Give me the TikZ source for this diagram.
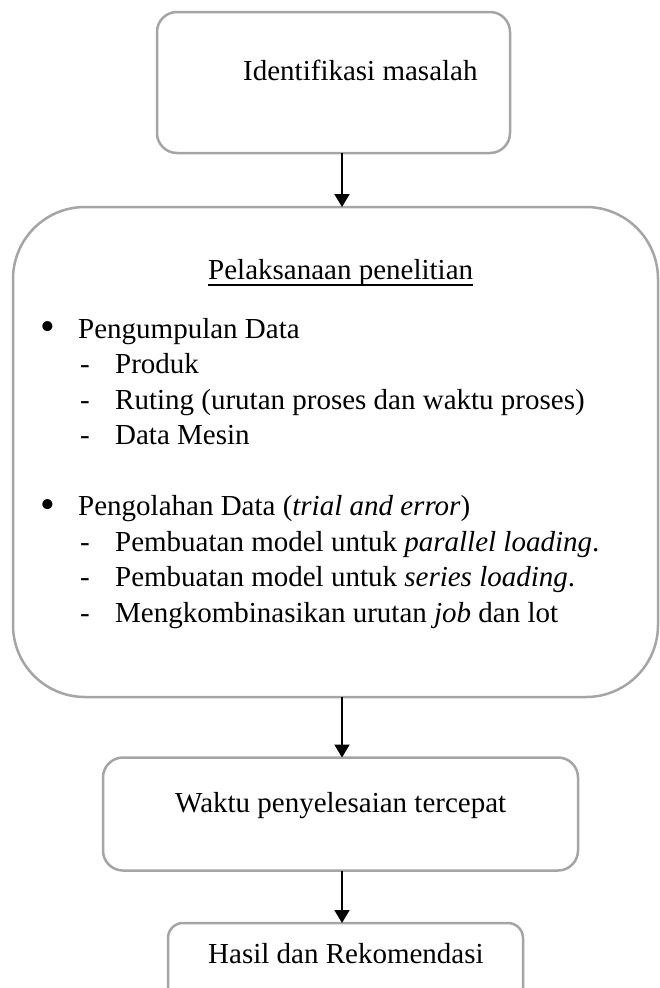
\documentclass[tikz,border=0pt]{standalone}
\usepackage{fontspec}
\setmainfont{Liberation Serif}
\usetikzlibrary{arrows.meta,positioning}
\definecolor{boxgray}{RGB}{165,165,165}
\newcommand\itembullet{\llap{\makebox[38pt][l]{\raisebox{-2.5pt}{\scalebox{1.45}{\textbullet}}}}}
\newcommand\itemdash{\llap{\makebox[35pt][l]{-}}}
\tikzset{process box/.style={rectangle,draw=boxgray,line width=2.5pt,rounded corners=20pt,inner sep=0pt,outer sep=0pt},
         box text/.style={anchor=base west,inner sep=0pt,font=\fontsize{29}{35.5}\selectfont},
         flow/.style={-{Triangle[length=13pt,width=15pt]},line width=2pt,black}
}

\begin{document}
\begin{tikzpicture}[x=1pt,y=-1pt]
\useasboundingbox (0,0) rectangle (660,988);
\coordinate (axis) at (342,0);
% boxes
\node [process box, minimum width=353pt, minimum height=141pt] (ident) at (333.5,82.5) {};
\node [process box, rounded corners=72pt, minimum width=645pt, minimum height=490pt] (research) at (335.5,452) {};
\node [process box, minimum width=475pt, minimum height=113pt] (fastest) at (340.5,814) {};
\node [process box, rounded corners=15pt, minimum width=355pt, minimum height=90pt] (result) at (345.5,968) {};
% texts
\node [box text] (identtext) at (243,80) {Identifikasi masalah};
\node [box text] (title) at (208,279) {Pelaksanaan penelitian};
\draw [line width=1.6pt] ([yshift=-6pt]title.base west) -- ([yshift=-6pt]title.base east);
\node [box text] (collect) at (78,338) {\itembullet Pengumpulan Data};
\node [box text] (product) at (115,373.5) {\itemdash Produk};
\node [box text] (routing) at (115,409) {\itemdash Ruting (urutan proses dan waktu proses)};
\node [box text] (machine) at (115,444.5) {\itemdash Data Mesin};
\node [box text] (process) at (78,515.5) {\itembullet Pengolahan Data (\textit{trial and error})};
\node [box text] (parallel) at (115,551) {\itemdash Pembuatan model untuk \textit{parallel loading}.};
\node [box text] (series) at (115,586.5) {\itemdash Pembuatan model untuk \textit{series loading}.};
\node [box text] (combine) at (115,622) {\itemdash Mengkombinasikan urutan \textit{job} dan lot};
\node [box text] (fasttext) at (175,812) {Waktu penyelesaian tercepat};
\node [box text] (resulttext) at (208,963) {Hasil dan Rekomendasi};
% arrows
\draw [flow] (ident.south -| axis) -- (research.north -| axis);
\draw [flow] (research.south -| axis) -- (fastest.north -| axis);
\draw [flow] (fastest.south -| axis) -- (result.north -| axis);
\end{tikzpicture}
\end{document}
